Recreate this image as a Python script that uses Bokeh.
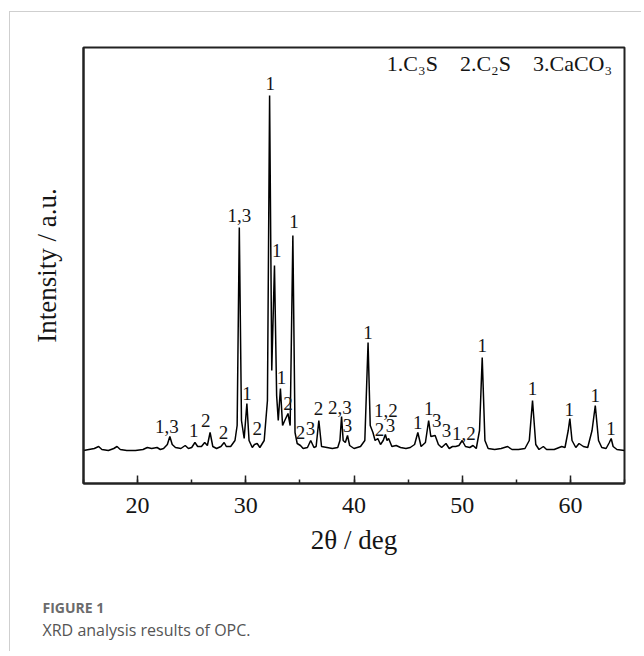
from bokeh.plotting import figure
from bokeh.models import Range1d, SingleIntervalTicker, FixedTicker, Label, Title, ColumnDataSource
from bokeh.core.properties import value
from bokeh.embed import file_html
from bokeh.resources import INLINE

# ---- data ----
two_theta = [15.0, 15.5, 16.0, 16.4, 16.7, 17.3, 17.8, 18.1, 18.4, 19.0, 19.8, 20.5, 20.9, 21.3, 21.8,
             22.1, 22.4, 22.75, 22.98, 23.2, 23.5, 24.0, 24.4, 24.7, 25.0, 25.3, 25.55, 25.9, 26.2,
             26.45, 26.7, 26.95, 27.3, 27.7, 27.85, 28.0, 28.2, 28.6, 29.0, 29.2, 29.4, 29.6, 29.85,
             30.1, 30.3, 30.6, 30.8, 31.05, 31.3, 31.7, 32.0, 32.2, 32.4, 32.65, 32.85, 33.0, 33.2,
             33.4, 33.6, 33.9, 34.1, 34.35, 34.55, 34.75, 35.05, 35.3, 35.7, 36.0, 36.3, 36.5, 36.75,
             37.0, 37.5, 38.0, 38.5, 38.7, 38.85, 39.0, 39.2, 39.4, 39.6, 40.0, 40.6, 41.0, 41.3,
             41.5, 41.75, 41.95, 42.2, 42.45, 42.7, 42.9, 43.05, 43.2, 43.5, 43.9, 44.3, 44.8, 45.2,
             45.6, 45.9, 46.2, 46.6, 46.9, 47.1, 47.5, 47.8, 48.1, 48.5, 48.8, 49.1, 49.4, 49.7,
             50.0, 50.3, 50.7, 51.0, 51.3, 51.6, 51.85, 52.1, 52.4, 53.0, 53.6, 54.2, 54.6, 55.2,
             55.8, 56.2, 56.5, 56.8, 57.1, 57.5, 57.8, 58.5, 59.2, 59.5, 59.8, 59.95, 60.15, 60.5,
             60.8, 61.2, 61.6, 62.0, 62.3, 62.6, 62.9, 63.3, 63.6, 63.77, 63.95, 64.3, 65.0]
intensity = [330, 340, 350, 370, 340, 330, 350, 370, 340, 330, 330, 340, 360, 350, 360,
             340, 350, 390, 470, 390, 360, 350, 380, 350, 360, 410, 370, 370, 410,
             380, 510, 370, 350, 370, 390, 410, 370, 370, 430, 580, 2560, 630, 450,
             800, 430, 360, 390, 400, 360, 430, 830, 3880, 1130, 2180, 880, 630, 950,
             580, 630, 700, 580, 2480, 510, 400, 380, 350, 360, 430, 360, 370, 630,
             370, 360, 350, 360, 430, 670, 430, 410, 480, 380, 350, 370, 430, 1410,
             580, 510, 430, 450, 390, 430, 490, 430, 450, 370, 380, 360, 350, 360,
             390, 510, 370, 410, 630, 470, 480, 390, 360, 400, 350, 370, 370, 380,
             430, 370, 360, 380, 350, 530, 1260, 430, 350, 340, 350, 370, 340, 340,
             350, 430, 830, 390, 340, 370, 340, 340, 370, 360, 530, 650, 430, 360,
             400, 370, 360, 530, 780, 430, 360, 350, 410, 450, 370, 340, 330]

peak_labels = ["1,3", "1", "2", "2", "1,3", "1", "2", "1", "1", "1", "2", "1", "2", "3", "2",
               "2,3", "3", "1", "1,2", "2", "3", "1", "1", "3", "3", "1,2", "1", "1", "1",
               "1", "1"]
peak_label_x = [22.7, 25.2, 26.3, 27.95, 29.4, 30.1, 31.05, 32.25, 32.85, 33.3, 33.9, 34.45, 35.05,
                35.98, 36.72, 38.7, 39.4, 41.3, 42.95, 42.35, 43.37, 45.9, 46.9, 47.65, 48.55,
                50.15, 51.85, 56.5, 59.9, 62.3, 63.75]
peak_label_y = [570, 530, 630, 513, 2680, 900, 550, 4000, 2330, 1060, 800, 2620, 510,
                550, 750, 760, 580, 1510, 730, 540, 580, 613, 750, 630, 530,
                500, 1380, 950, 740, 880, 550]

legend_text = "1.C\u2083S\u20032.C\u2082S\u20033.CaCO\u2083"
x_title = "2\u03b8 / deg"
y_title = "Intensity / a.u."
fig_no = "FIGURE 1"
caption = "XRD analysis results of OPC."
x_ticks_interval = 10

SERIF = "Liberation Serif"
INK = "#151515"

p = figure(width=632, height=640, output_backend="svg", toolbar_location=None,
           x_range=Range1d(15, 65), y_range=Range1d(0, 4360),
           min_border_left=73, min_border_right=18, min_border_top=35, min_border_bottom=169)
p.margin = (11, 0, 0, 9)
p.styles = {"border-left": "1px solid #cfcfcf", "border-top": "1px solid #cfcfcf"}
p.grid.visible = False
p.outline_line_color = "#222222"
p.outline_line_width = 2
p.background_fill_color = "white"
p.border_fill_color = "white"

p.line(two_theta, intensity, line_color="black", line_width=1.5)

src = ColumnDataSource(dict(x=peak_label_x, y=peak_label_y, t=peak_labels))
p.text(x="x", y="y", text="t", source=src, text_font=value(SERIF), text_font_size="19px",
       text_align="center", text_baseline="middle", text_color=INK)

p.add_layout(Label(x=63.86, y=4200, text=legend_text, text_font=SERIF, text_font_size="22px",
                   text_align="right", text_baseline="middle", text_color=INK))

xa = p.xaxis[0]
xa.ticker = SingleIntervalTicker(interval=x_ticks_interval, num_minor_ticks=2)
xa.major_tick_in = 8
xa.major_tick_out = 0
xa.minor_tick_in = 4
xa.minor_tick_out = 0
xa.axis_line_color = "#222222"
xa.axis_line_width = 2
xa.major_tick_line_color = "#222222"
xa.major_tick_line_width = 1.5
xa.minor_tick_line_color = "#222222"
xa.minor_tick_line_width = 1.5
xa.major_label_text_font = SERIF
xa.major_label_text_font_style = "normal"
xa.major_label_text_font_size = "24px"
xa.major_label_text_color = INK
xa.major_label_standoff = 14
xa.axis_label = x_title
xa.axis_label_text_font = SERIF
xa.axis_label_text_font_size = "27px"
xa.axis_label_text_font_style = "normal"
xa.axis_label_text_color = INK
xa.axis_label_standoff = 9

ya = p.yaxis[0]
ya.ticker = FixedTicker(ticks=[])
ya.major_tick_in = 0
ya.major_tick_out = 0
ya.minor_tick_in = 0
ya.minor_tick_out = 0
ya.axis_line_color = "#222222"
ya.axis_line_width = 2
ya.axis_label = y_title
ya.axis_label_text_font = SERIF
ya.axis_label_text_font_size = "27px"
ya.axis_label_text_font_style = "normal"
ya.axis_label_text_color = INK
ya.axis_label_standoff = 22

# spacer, figure number and caption stacked below the x axis
p.add_layout(Title(text=" ", align="left", standoff=22, text_font="Open Sans",
                   text_font_size="10px"), "below")
p.add_layout(Title(text=fig_no, align="left", offset=-41, standoff=0,
                   text_font="Open Sans", text_font_size="14px", text_font_style="bold",
                   text_color="#6b6b6b"), "below")
p.add_layout(Title(text=caption, align="left", offset=-41, standoff=0,
                   text_font="Open Sans", text_font_size="16px", text_font_style="normal",
                   text_color="#555555"), "below")

open("out.html", "w").write(file_html(p, INLINE))
